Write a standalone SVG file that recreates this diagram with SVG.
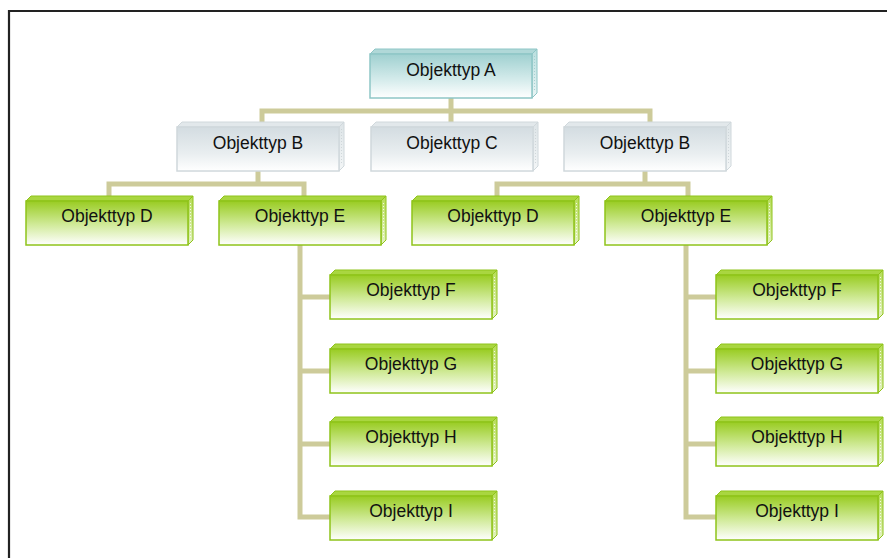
<svg xmlns="http://www.w3.org/2000/svg" xmlns:xlink="http://www.w3.org/1999/xlink" width="887" height="558" viewBox="0 0 887 558">
  <style>
    .lbl { font-family: "Liberation Sans", Arial, sans-serif; font-size: 17.5px; fill: #111; text-anchor: middle; }
    .wire { fill: none; stroke: #cdcb9a; stroke-width: 5; stroke-linejoin: miter; stroke-linecap: butt; }
    .frame { fill: none; stroke: #222; stroke-width: 2.2; }
  </style>
  <defs>
    <!-- front-face gradients -->
    <linearGradient id="gGreen" x1="0" y1="0" x2="0" y2="1">
      <stop offset="0" stop-color="#99cc22"/>
      <stop offset="0.55" stop-color="#d2eb9c"/>
      <stop offset="1" stop-color="#ffffff"/>
    </linearGradient>
    <linearGradient id="gTeal" x1="0" y1="0" x2="0" y2="1">
      <stop offset="0" stop-color="#9fd0d0"/>
      <stop offset="0.6" stop-color="#d6ecec"/>
      <stop offset="1" stop-color="#ffffff"/>
    </linearGradient>
    <linearGradient id="gGray" x1="0" y1="0" x2="0" y2="1">
      <stop offset="0" stop-color="#d3dce1"/>
      <stop offset="0.6" stop-color="#e9eef0"/>
      <stop offset="1" stop-color="#ffffff"/>
    </linearGradient>
    <linearGradient id="sGreen" x1="0" y1="0" x2="0" y2="1">
      <stop offset="0" stop-color="#b5dc55"/>
      <stop offset="1" stop-color="#e4f3c2"/>
    </linearGradient>
    <linearGradient id="sTeal" x1="0" y1="0" x2="0" y2="1">
      <stop offset="0" stop-color="#b9dede"/>
      <stop offset="1" stop-color="#eaf5f5"/>
    </linearGradient>
    <linearGradient id="sGray" x1="0" y1="0" x2="0" y2="1">
      <stop offset="0" stop-color="#dde4e7"/>
      <stop offset="1" stop-color="#f3f6f7"/>
    </linearGradient>

    <!-- 3D box: front 162x44, depth 5 up-right -->
    <g id="boxGreen">
      <polygon points="0,0 5,-5 167,-5 162,0" fill="#a9d640" stroke="#8fc31a" stroke-width="1"/>
      <polygon points="162,0 167,-5 167,39 162,44" fill="url(#sGreen)" stroke="#8fc31a" stroke-width="1"/>
      <line x1="164.5" y1="2" x2="164.5" y2="38" stroke="#ffffff" stroke-width="1" stroke-dasharray="1,2" opacity="0.8"/>
      <rect x="0" y="0" width="162" height="44" fill="url(#gGreen)" stroke="#8fc31a" stroke-width="1.5"/>
    </g>
    <g id="boxTeal">
      <polygon points="0,0 5,-5 167,-5 162,0" fill="#b0d8d8" stroke="#8ec6c6" stroke-width="1"/>
      <polygon points="162,0 167,-5 167,39 162,44" fill="url(#sTeal)" stroke="#8ec6c6" stroke-width="1"/>
      <line x1="164.5" y1="2" x2="164.5" y2="38" stroke="#9ccaca" stroke-width="1" stroke-dasharray="1,2" opacity="0.8"/>
      <rect x="0" y="0" width="162" height="44" fill="url(#gTeal)" stroke="#8ec6c6" stroke-width="1.5"/>
    </g>
    <g id="boxGray">
      <polygon points="0,0 5,-5 167,-5 162,0" fill="#e2e8eb" stroke="#d0d8dc" stroke-width="1"/>
      <polygon points="162,0 167,-5 167,39 162,44" fill="url(#sGray)" stroke="#d0d8dc" stroke-width="1"/>
      <line x1="164.5" y1="2" x2="164.5" y2="38" stroke="#c9d1d5" stroke-width="1" stroke-dasharray="1,2" opacity="0.8"/>
      <rect x="0" y="0" width="162" height="44" fill="url(#gGray)" stroke="#d0d8dc" stroke-width="1.5"/>
    </g>
  </defs>

  <rect width="887" height="558" fill="#ffffff"/>
  <path class="frame" d="M9,558 V11 H887"/>

  <!-- tree connectors -->
  <g id="connectors">
    <path class="wire" d="M451,97 V127 M262,127 V111 H650 V127"/>
    <path class="wire" d="M258,171 V184 M109,201 V184 H304 V201"/>
    <path class="wire" d="M645,171 V184 M497,201 V184 H688 V201"/>
    <path class="wire" d="M300,245 V517 H331 M298,297 H331 M298,371 H331 M298,444 H331"/>
    <path class="wire" d="M686,245 V517 H717 M684,297 H717 M684,371 H717 M684,444 H717"/>
  </g>

  <g id="nodeA"><use xlink:href="#boxTeal" x="370" y="54"/><text class="lbl" x="451" y="76">Objekttyp A</text></g>

  <g id="nodeB1"><use xlink:href="#boxGray" x="177" y="127"/><text class="lbl" x="258" y="149">Objekttyp B</text></g>
  <g id="nodeC"><use xlink:href="#boxGray" x="371" y="127"/><text class="lbl" x="452" y="149">Objekttyp C</text></g>
  <g id="nodeB2"><use xlink:href="#boxGray" x="564" y="127"/><text class="lbl" x="645" y="149">Objekttyp B</text></g>

  <g id="nodeD1"><use xlink:href="#boxGreen" x="26" y="201"/><text class="lbl" x="107" y="222">Objekttyp D</text></g>
  <g id="nodeE1"><use xlink:href="#boxGreen" x="219" y="201"/><text class="lbl" x="300" y="222">Objekttyp E</text></g>
  <g id="nodeD2"><use xlink:href="#boxGreen" x="412" y="201"/><text class="lbl" x="493" y="222">Objekttyp D</text></g>
  <g id="nodeE2"><use xlink:href="#boxGreen" x="605" y="201"/><text class="lbl" x="686" y="222">Objekttyp E</text></g>

  <g id="nodeF1"><use xlink:href="#boxGreen" x="330" y="275"/><text class="lbl" x="411" y="296">Objekttyp F</text></g>
  <g id="nodeG1"><use xlink:href="#boxGreen" x="330" y="349"/><text class="lbl" x="411" y="370">Objekttyp G</text></g>
  <g id="nodeH1"><use xlink:href="#boxGreen" x="330" y="422"/><text class="lbl" x="411" y="443">Objekttyp H</text></g>
  <g id="nodeI1"><use xlink:href="#boxGreen" x="330" y="496"/><text class="lbl" x="411" y="517">Objekttyp I</text></g>

  <g id="nodeF2"><use xlink:href="#boxGreen" x="716" y="275"/><text class="lbl" x="797" y="296">Objekttyp F</text></g>
  <g id="nodeG2"><use xlink:href="#boxGreen" x="716" y="349"/><text class="lbl" x="797" y="370">Objekttyp G</text></g>
  <g id="nodeH2"><use xlink:href="#boxGreen" x="716" y="422"/><text class="lbl" x="797" y="443">Objekttyp H</text></g>
  <g id="nodeI2"><use xlink:href="#boxGreen" x="716" y="496"/><text class="lbl" x="797" y="517">Objekttyp I</text></g>
</svg>
